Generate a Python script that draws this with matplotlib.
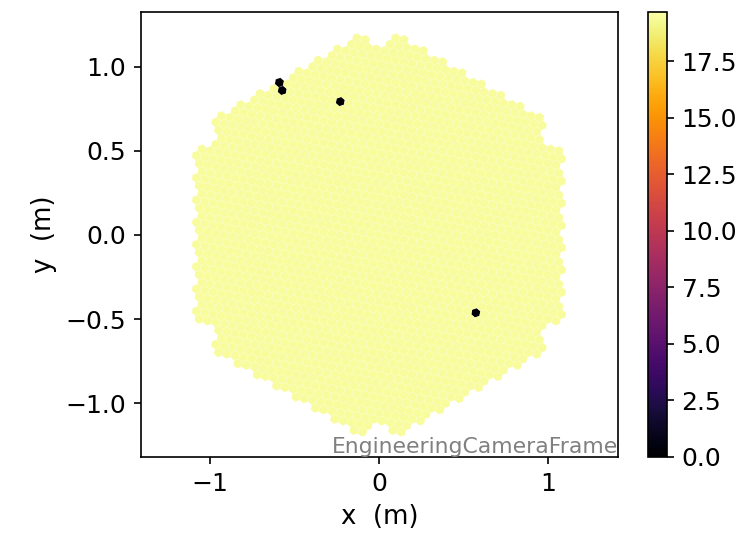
import numpy as np
import matplotlib
matplotlib.use("Agg")
import matplotlib.pyplot as plt
from matplotlib.collections import PolyCollection

plt.rcParams["font.size"] = 12

# camera layout (LST-like: 7-pixel modules, 265 modules)
pix_pitch = 0.05  # m
n_rings = 9

# image values
base_charge = 19.45
dead_pixels_x = [-0.586, -0.568, -0.225, 0.574]
dead_pixels_y = [0.917, 0.863, 0.798, -0.464]
dead_charge = 0.0
vmin, vmax = 0.0, 19.68

title = "LST Pedestal Charge (p.e.)"
frame_name = "EngineeringCameraFrame"


def unit(deg):
    a = np.deg2rad(deg)
    return np.array([np.cos(a), np.sin(a)])


def build_geometry():
    e1 = pix_pitch * unit(109.1)
    e2 = pix_pitch * unit(49.1)
    offsets = [np.zeros(2), e1, -e1, e2, -e2, e2 - e1, e1 - e2]
    A = 2 * e1 + e2
    ang = np.deg2rad(60)
    rot = np.array([[np.cos(ang), -np.sin(ang)], [np.sin(ang), np.cos(ang)]])
    B = rot @ A
    corners = {(n_rings, 0), (0, n_rings), (-n_rings, 0), (0, -n_rings),
               (n_rings, -n_rings), (-n_rings, n_rings)}
    xs, ys = [], []
    for i in range(-n_rings, n_rings + 1):
        for j in range(-n_rings, n_rings + 1):
            d = abs(i) + abs(j) if i * j >= 0 else max(abs(i), abs(j))
            if d > n_rings or (i, j) in corners:
                continue
            c = i * A + j * B
            for o in offsets:
                xs.append(c[0] + o[0])
                ys.append(c[1] + o[1])
    return np.array(xs), np.array(ys)


pix_x, pix_y = build_geometry()
image = np.full(len(pix_x), base_charge)
for dx, dy in zip(dead_pixels_x, dead_pixels_y):
    k = np.argmin((pix_x - dx) ** 2 + (pix_y - dy) ** 2)
    image[k] = dead_charge

r = pix_pitch / np.sqrt(3)
vert_ang = np.deg2rad(19.1 + 60 * np.arange(6))
hexes = [np.column_stack([x + r * np.cos(vert_ang), y + r * np.sin(vert_ang)])
         for x, y in zip(pix_x, pix_y)]

fig = plt.figure(figsize=(5.02, 3.58), dpi=150)
ax = fig.add_axes([0.1873, 0.149, 0.6334, 0.8287])
cax = fig.add_axes([0.8606, 0.149, 0.0252, 0.8287])

coll = PolyCollection(hexes, cmap="inferno", linewidths=0.3,
                      edgecolors=(1, 1, 1, 0.18), antialiased=True)
coll.set_array(image)
coll.set_clim(vmin, vmax)
ax.add_collection(coll)

ax.set_xlim(-1.408, 1.414)
ax.set_ylim(-1.321, 1.327)
ax.set_xticks([-1, 0, 1])
ax.set_xlabel("x  (m)", fontsize=12.5)
ax.set_ylabel("y  (m)", fontsize=12.5)
ax.set_title(title, pad=11)
ax.text(1.0, 0.0, frame_name, transform=ax.transAxes, ha="right", va="bottom",
        color="gray", fontsize=10.5)

fig.colorbar(coll, cax=cax)

fig.savefig("out.png", dpi=150)
